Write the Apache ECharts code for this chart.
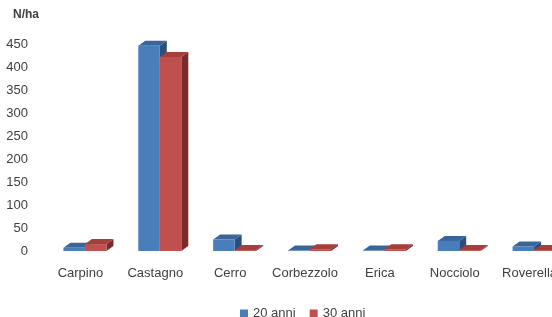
<!DOCTYPE html>
<html>
<head>
<meta charset="utf-8">
<script src="https://cdn.jsdelivr.net/npm/echarts@6/dist/echarts.min.js"></script>
<style>
  html, body { margin: 0; padding: 0; background: #fff; }
  #chart { width: 552px; height: 317px; }
</style>
</head>
<body>
<div id="chart"></div>
<script>
const categories = ['Carpino', 'Castagno', 'Cerro', 'Corbezzolo', 'Erica', 'Nocciolo', 'Roverella']
const anni20 = [7, 446, 25, 1, 1, 22, 10]
const anni30 = [15, 422, 2, 4, 4, 2, 2]
const yTicks = [0, 50, 100, 150, 200, 250, 300, 350, 400, 450]

const barW = 21.5
const depthX = 7
const depthY = -5

// 3D-looking bar: front face, top face and right side
function bar3d(offset, colors) {
  return function (params, api) {
    const c = api.value(0)
    const v = api.value(1)
    const top = api.coord([c, v])
    const base = api.coord([c, 0])
    const x0 = top[0] + offset
    const x1 = x0 + barW
    const y0 = top[1]
    const y1 = base[1]
    return {
      type: 'group',
      children: [
        {
          type: 'polygon',
          shape: { points: [[x1, y1], [x1 + depthX, y1 + depthY], [x1 + depthX, y0 + depthY], [x1, y0]] },
          style: { fill: colors.side },
        },
        {
          type: 'polygon',
          shape: { points: [[x0, y0], [x1, y0], [x1 + depthX, y0 + depthY], [x0 + depthX, y0 + depthY]] },
          style: { fill: colors.top },
        },
        {
          type: 'rect',
          shape: { x: x0, y: y0, width: barW, height: Math.max(y1 - y0, 0.5) },
          style: { fill: colors.front },
        },
      ],
    }
  }
}

const chart = echarts.init(document.getElementById('chart'))
chart.setOption({
  animation: false,
  textStyle: { fontFamily: 'Liberation Sans' },
  title: {
    text: 'N/ha',
    left: 13,
    top: 9,
    padding: 0,
    textStyle: { fontSize: 12, fontWeight: 'bold', color: '#404040' },
  },
  legend: {
    left: 235,
    top: 302,
    itemWidth: 8,
    itemHeight: 8,
    itemGap: 14,
    textStyle: { fontSize: 13, color: '#404040' },
    data: [
      { name: '20 anni', icon: 'rect', itemStyle: { color: '#4A7EBB' } },
      { name: '30 anni', icon: 'rect', itemStyle: { color: '#C0504D' } },
    ],
  },
  grid: { left: 43, width: 524, top: 44, bottom: 66, containLabel: false, outerBoundsMode: 'none' },
  xAxis: {
    type: 'category',
    data: categories,
    axisLine: { show: false },
    axisTick: { show: false },
    axisLabel: { fontSize: 13, color: '#404040', margin: 16, interval: 0 },
  },
  yAxis: {
    type: 'value',
    min: 0,
    max: 450,
    interval: 50,
    splitLine: { show: false },
    axisLine: { show: false },
    axisTick: { show: false },
    axisLabel: {
      fontSize: 13,
      color: '#404040',
      margin: 15,
      formatter: v => (yTicks.includes(v) ? String(v) : ''),
    },
  },
  series: [
    {
      name: '20 anni',
      type: 'custom',
      renderItem: bar3d(-17, { front: '#4A7EBB', top: '#3A659B', side: '#2B4F7C' }),
      encode: { x: 0, y: 1 },
      data: anni20.map((v, i) => [i, v]),
    },
    {
      name: '30 anni',
      type: 'custom',
      renderItem: bar3d(4.5, { front: '#C0504D', top: '#A43F3C', side: '#7A2A29' }),
      encode: { x: 0, y: 1 },
      data: anni30.map((v, i) => [i, v]),
    },
  ],
})
</script>
</body>
</html>
